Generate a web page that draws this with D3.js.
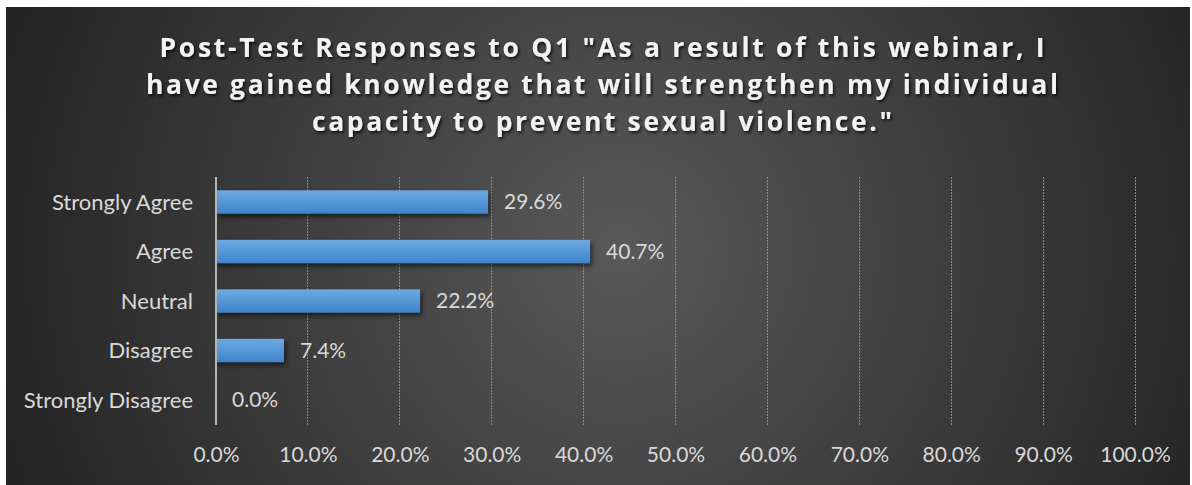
<!DOCTYPE html>
<html>
<head>
<meta charset="utf-8">
<script src="https://cdn.jsdelivr.net/npm/d3@7"></script>
<style>
  html, body { margin: 0; padding: 0; background: #ffffff; }
  svg { display: block; }
</style>
</head>
<body>
<script>
// Survey responses (percent of respondents)
const categories = ["Strongly Agree", "Agree", "Neutral", "Disagree", "Strongly Disagree"];
const values = [29.6, 40.7, 22.2, 7.4, 0.0];
const tickValues = [0, 10, 20, 30, 40, 50, 60, 70, 80, 90, 100];
const titleLines = [
  "Post-Test Responses to Q1 \"As a result of this webinar, I",
  "have gained knowledge that will strengthen my individual",
  "capacity to prevent sexual violence.\""
];

const W = 1192, H = 485;
const svg = d3.select("body").append("svg").attr("width", W).attr("height", H);
const defs = svg.append("defs");

// Dark radial background
const bg = defs.append("radialGradient").attr("id", "bg")
  .attr("gradientUnits", "userSpaceOnUse")
  .attr("cx", 620).attr("cy", 250).attr("r", 640);
bg.append("stop").attr("offset", "0%").attr("stop-color", "#595959");
bg.append("stop").attr("offset", "100%").attr("stop-color", "#242424");

// Bar fill: lighter on top
const bar = defs.append("linearGradient").attr("id", "barFill")
  .attr("x1", 0).attr("y1", 0).attr("x2", 0).attr("y2", 1);
bar.append("stop").attr("offset", "0%").attr("stop-color", "#6eaae2");
bar.append("stop").attr("offset", "100%").attr("stop-color", "#3e84cb");

const shadow = defs.append("filter").attr("id", "barShadow")
  .attr("x", "-5%").attr("y", "-30%").attr("width", "115%").attr("height", "180%");
shadow.append("feDropShadow").attr("dx", 2).attr("dy", 3).attr("stdDeviation", 2.5)
  .attr("flood-color", "#000").attr("flood-opacity", 0.6);

const tshadow = defs.append("filter").attr("id", "textShadow")
  .attr("x", "-5%").attr("y", "-20%").attr("width", "110%").attr("height", "160%");
tshadow.append("feDropShadow").attr("dx", 1.5).attr("dy", 2).attr("stdDeviation", 1.5)
  .attr("flood-color", "#000").attr("flood-opacity", 0.75);

svg.append("rect").attr("x", 6).attr("y", 7).attr("width", W - 8).attr("height", H - 7)
  .attr("fill", "url(#bg)");

// Title
const titleWidths = [885, 912, 580];
const title = svg.append("g").attr("filter", "url(#textShadow)");
titleLines.forEach((line, i) => {
  title.append("text")
    .attr("x", 602).attr("y", 57 + i * 36.8)
    .attr("text-anchor", "middle")
    .attr("font-family", "'Open Sans', sans-serif")
    .attr("font-weight", 700)
    .attr("font-size", 26.5)
    .attr("fill", "#f2f2f2")
    .attr("textLength", titleWidths[i])
    .attr("lengthAdjust", "spacing")
    .text(line);
});

// Scales
const x = d3.scaleLinear().domain([0, 100]).range([216, 1135]);
const y = d3.scaleBand().domain(categories).range([177, 425]).paddingInner(0.53).paddingOuter(0.27);

// Gridlines
const grid = svg.append("g");
grid.selectAll("line").data(tickValues.slice(1)).join("line")
  .attr("x1", d => x(d)).attr("x2", d => x(d))
  .attr("y1", 177).attr("y2", 425)
  .attr("stroke", "#8a8a8a").attr("stroke-width", 1)
  .attr("stroke-dasharray", "1.5,1.5")
  .attr("shape-rendering", "crispEdges");

// Bars
svg.append("g").selectAll("rect").data(categories).join("rect")
  .attr("x", x(0))
  .attr("y", d => y(d))
  .attr("width", (d, i) => x(values[i]) - x(0))
  .attr("height", y.bandwidth())
  .attr("fill", "url(#barFill)")
  .attr("filter", "url(#barShadow)");

// Category axis line
svg.append("line")
  .attr("x1", x(0)).attr("x2", x(0)).attr("y1", 177).attr("y2", 425)
  .attr("stroke", "#b5b5b5").attr("stroke-width", 2);

const labelFont = "Lato, 'Open Sans', sans-serif";

// Category labels
svg.append("g").selectAll("text").data(categories).join("text")
  .attr("x", 193)
  .attr("y", d => y(d) + y.bandwidth() / 2)
  .attr("dy", "0.35em")
  .attr("text-anchor", "end")
  .attr("font-family", labelFont)
  .attr("font-size", 22)
  .attr("fill", "#d9d9d9")
  .text(d => d);

// Value labels
svg.append("g").selectAll("text").data(categories).join("text")
  .attr("x", (d, i) => x(values[i]) + 16)
  .attr("y", d => y(d) + y.bandwidth() / 2)
  .attr("dy", "0.35em")
  .attr("font-family", labelFont)
  .attr("font-size", 21)
  .attr("fill", "#d9d9d9")
  .text((d, i) => values[i].toFixed(1) + "%");

// Value axis tick labels
const xAxis = d3.axisBottom(x).tickValues(tickValues)
  .tickFormat(d => d.toFixed(1) + "%").tickSize(0).tickPadding(0);
const ax = svg.append("g").attr("transform", "translate(0,447)").call(xAxis);
ax.select(".domain").remove();
ax.selectAll("text")
  .attr("font-family", labelFont)
  .attr("font-size", 21)
  .attr("fill", "#d9d9d9");
</script>
</body>
</html>
